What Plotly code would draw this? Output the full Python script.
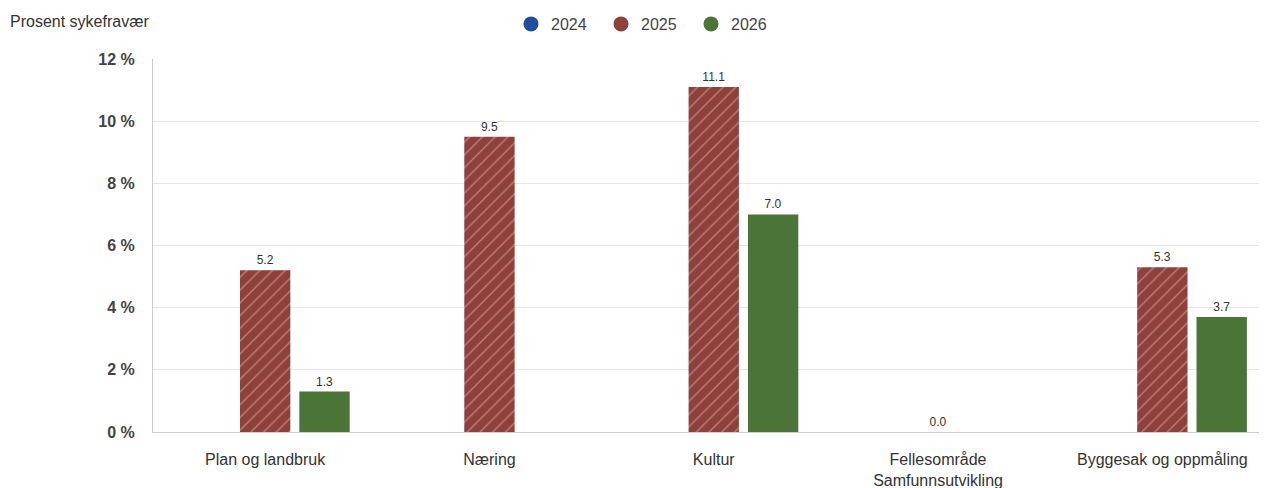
import plotly.graph_objects as go

CATEGORIES = [
    "Plan og landbruk",
    "Næring",
    "Kultur",
    "Fellesområde<br>Samfunnsutvikling",
    "Byggesak og oppmåling",
]
YEARS = ["2024", "2025", "2026"]
VALUES_2024 = [None, None, None, None, None]
VALUES_2025 = [5.2, 9.5, 11.1, 0.0, 5.3]
VALUES_2026 = [1.3, None, 7.0, None, 3.7]
Y_TICKS = [0, 2, 4, 6, 8, 10, 12]

COLORS = {"2024": "#1f4f9c", "2025": "#8e403b", "2026": "#4b7437"}
FONT = "Liberation Sans, Arial, sans-serif"

# the page body adds an 8px margin, so the figure is drawn 8px smaller
OFF = 8
W, H = 1267 - OFF, 488 - OFF
M_L, M_R, M_T = 153 - OFF, 0, 59 - OFF
M_B = H - M_T - (432 - 59)
PW, PH = W - M_L - M_R, H - M_T - M_B
# the reference plot runs a little past the right edge of the picture
CAT_PX = 224.3
X_RANGE = [-0.5, -0.5 + PW / CAT_PX]


def _labels(vals):
    return [None if v is None else f"{v:.1f}" for v in vals]


fig = go.Figure()

fig.add_trace(go.Bar(
    x=CATEGORIES, y=VALUES_2024, name="2024",
    marker_color=COLORS["2024"], showlegend=False,
))
fig.add_trace(go.Bar(
    x=CATEGORIES, y=VALUES_2025, name="2025",
    marker=dict(
        color=COLORS["2025"],
        pattern=dict(shape="/", fgcolor="#f0c2bb", size=9, solidity=0.15),
        line=dict(width=0),
    ),
    text=_labels(VALUES_2025), textposition="outside",
    textfont=dict(size=12, color="#333333", family=FONT),
    cliponaxis=False, showlegend=False,
))
fig.add_trace(go.Bar(
    x=CATEGORIES, y=VALUES_2026, name="2026",
    marker=dict(color=COLORS["2026"], line=dict(width=0)),
    text=_labels(VALUES_2026), textposition="outside",
    textfont=dict(size=12, color="#333333", family=FONT),
    cliponaxis=False, showlegend=False,
))

# legend entries with round markers
for yr in YEARS:
    fig.add_trace(go.Scatter(
        x=[None], y=[None], mode="markers", name=yr,
        marker=dict(symbol="circle", size=15, color=COLORS[yr]),
    ))

fig.update_layout(
    width=W, height=H,
    margin=dict(l=M_L, r=M_R, t=M_T, b=M_B, autoexpand=False),
    paper_bgcolor="white", plot_bgcolor="white",
    barmode="group", bargap=0.206, bargroupgap=0.152,
    font=dict(family=FONT, size=16, color="#333333"),
    legend=dict(
        orientation="h", xref="container", yref="container",
        x=(646 - OFF) / W, xanchor="center",
        y=1 - (24 - OFF) / H, yanchor="middle",
        entrywidth=45, font=dict(size=16, color="#444444"),
    ),
    annotations=[dict(
        text="Prosent sykefravær", xref="paper", yref="paper",
        x=(8 - OFF - M_L) / PW, y=1 + (M_T - (22 - OFF)) / PH,
        xanchor="left", yanchor="middle",
        showarrow=False, font=dict(size=16, color="#333333"),
    )],
)

fig.update_xaxes(
    range=X_RANGE,
    showline=True, linecolor="#cccccc", linewidth=1, automargin=False,
    showgrid=False, ticks="", ticklabelstandoff=13,
    tickfont=dict(size=16, color="#333333"),
)
fig.update_yaxes(
    range=[0, 12], tickvals=Y_TICKS, automargin=False,
    ticktext=[f"<b>{t} %</b>" for t in Y_TICKS],
    showgrid=True, gridcolor="#e6e6e6", gridwidth=1,
    showline=True, linecolor="#cccccc", linewidth=1,
    zeroline=False, ticks="", ticklabelstandoff=14,
    tickfont=dict(size=16, color="#444444"),
)

fig.write_html("out.html")
